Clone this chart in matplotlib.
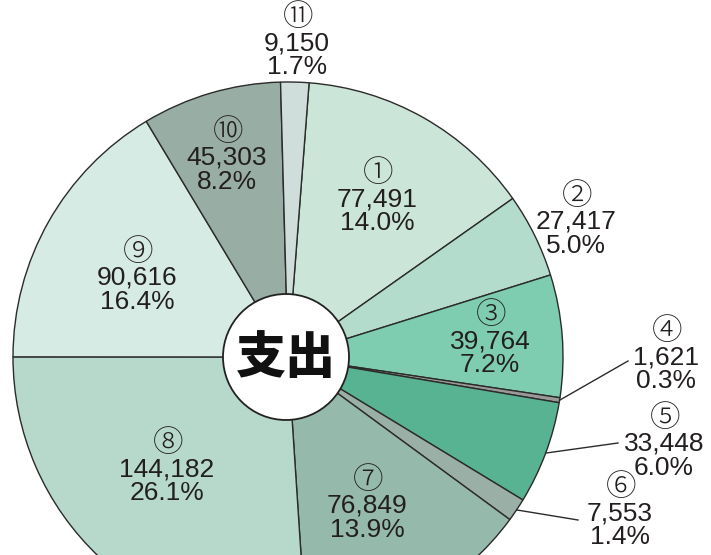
import matplotlib
matplotlib.use("Agg")
import matplotlib.pyplot as plt
from matplotlib.patches import Circle
import numpy as np

# ---- data ----
markers = ["①", "②", "③", "④", "⑤", "⑥", "⑦", "⑧", "⑨", "⑩", "⑪"]
values = [77491, 27417, 39764, 1621, 33448, 7553, 76849, 144182, 90616, 45303, 9150]
percents = ["14.0%", "5.0%", "7.2%", "0.3%", "6.0%", "1.4%", "13.9%", "26.1%", "16.4%", "8.2%", "1.7%"]
center_label = "支出"

# ---- styles / layout ----
colors = ["#cbe6d9", "#b3dccc", "#7fcdb0", "#9a9a9a", "#58b392", "#9aafa6",
          "#95b9aa", "#b6d9cb", "#d6ebe3", "#98ada4", "#cfdddb"]
W, H = 711, 555
# number-line centres of labels, in pixel coords (x right, y down)
label_pos = [(377, 199), (576, 222), (490, 341), (666, 357), (664, 444), (620, 513),
             (367, 506), (167, 469), (137, 278), (227, 158), (297, 43)]
# leader line text-side anchor points (pixel coords) for outside labels
leaders = {3: (628, 361), 4: (618, 443), 5: (578, 520)}

TXT = "#231f20"

def P(px, py):
    return px, H - py

fig = plt.figure(figsize=(W / 100, H / 100), dpi=100)
ax = fig.add_axes([0, 0, 1, 1])
cx, cy = P(288, 357)
R = 275
wedges, _ = ax.pie(values, colors=colors, startangle=85.6, counterclock=False,
                   center=(cx, cy), radius=R,
                   wedgeprops=dict(edgecolor="#2b2b2b", linewidth=1.0))
ax.set_xlim(0, W)
ax.set_ylim(0, H)
ax.set_aspect("equal")
ax.axis("off")

ax.add_patch(Circle(P(286, 357), 63, facecolor="white", edgecolor="#222222",
                    linewidth=1.3, zorder=5))
ax.text(*P(286, 358), center_label, ha="center", va="center", fontsize=36,
        fontweight="heavy", family=["Noto Sans CJK JP"], color="#111111", zorder=6)

for i, (m, v, p) in enumerate(zip(markers, values, percents)):
    px, py = label_pos[i]
    ax.text(*P(px + 1, py - 26), m, ha="center", va="center", fontsize=22,
            fontweight="light", family=["Noto Sans CJK JP"], color=TXT, zorder=4)
    ax.text(*P(px, py), f"{v:,}", ha="center", va="center", fontsize=19,
            family=["Liberation Sans", "DejaVu Sans"], color=TXT, zorder=4)
    ax.text(*P(px, py + 24), p, ha="center", va="center", fontsize=19,
            family=["Liberation Sans", "DejaVu Sans"], color=TXT, zorder=4)

for i, (lx, ly) in leaders.items():
    w = wedges[i]
    mid = np.deg2rad((w.theta1 + w.theta2) / 2)
    ex, ey = cx + R * np.cos(mid), cy + R * np.sin(mid)
    tx, ty = P(lx, ly)
    ax.plot([ex, tx], [ey, ty], color="#2b2b2b", linewidth=1.0, zorder=4)

fig.savefig("out.png", dpi=100)
